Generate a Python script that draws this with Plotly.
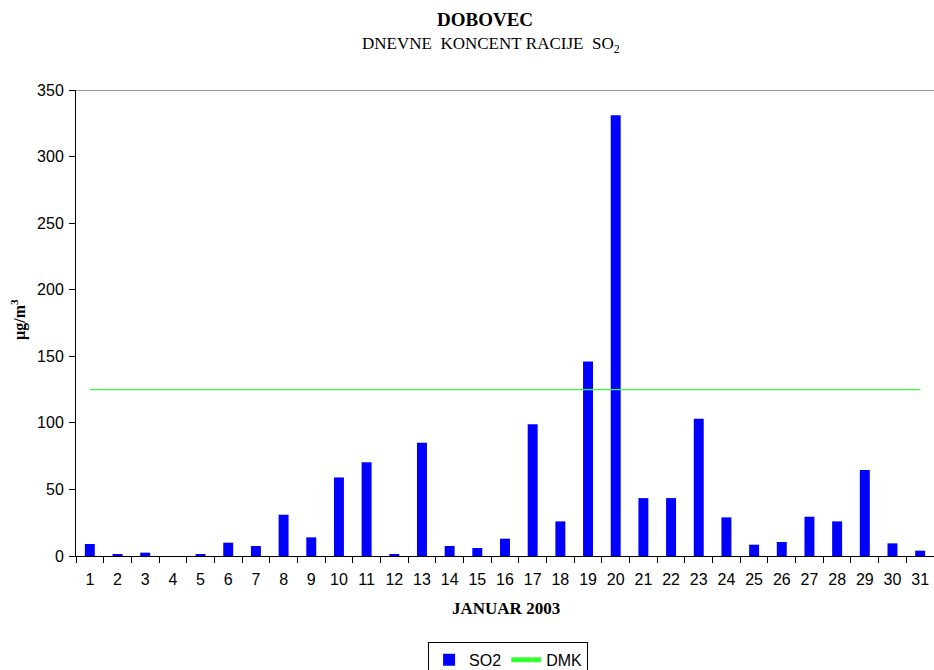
import plotly.graph_objects as go

days = [str(d) for d in range(1, 32)]
so2 = [9, 1, 2.5, 0, 1, 10, 7.5, 31, 14, 59, 70.5, 1, 85, 7.5, 6, 13, 99, 26, 146, 331,
       43.5, 43.5, 103, 29, 8.5, 10.5, 29.5, 26, 64.5, 9.5, 4]
dmk = [125] * 31
y_range = [0, 350]
y_ticks = [0, 50, 100, 150, 200, 250, 300, 350]

fig = go.Figure()
fig.add_trace(go.Bar(x=days, y=so2, name="SO2", marker=dict(color="#0000FF", line=dict(width=0))))
fig.add_trace(go.Scatter(x=days, y=dmk, name="DMK", mode="lines", line=dict(color="#33FF33", width=1.2)))

serif = "Liberation Serif, Times New Roman, serif"
sans = "Liberation Sans, Arial, sans-serif"
NB = "\u00a0"

fig.update_layout(
    width=934, height=670,
    margin=dict(l=76, r=0, t=90, b=114),
    paper_bgcolor="white", plot_bgcolor="white",
    bargap=0.64,
    showlegend=True,
    legend=dict(orientation="h", xref="container", yref="container",
                x=0.544, xanchor="center", y=0.042, yanchor="top",
                bordercolor="black", borderwidth=1, font=dict(family=sans, size=16, color="black"),
                tracegroupgap=0, itemsizing="constant"),
    xaxis=dict(type="category", showline=True, linecolor="black", linewidth=1,
               ticks="outside", tickson="boundaries", ticklen=6, tickcolor="black",
               ticklabelstandoff=9,
               tickfont=dict(family=sans, size=16, color="black"), showgrid=False, zeroline=False,
               automargin=False),
    yaxis=dict(range=y_range, tickvals=y_ticks, showline=True, linecolor="black", linewidth=1,
               ticks="outside", ticklen=6, tickcolor="black", showgrid=False, zeroline=False,
               ticklabelstandoff=2,
               tickfont=dict(family=sans, size=16, color="black"), automargin=False),
    shapes=[dict(type="line", xref="paper", yref="y", x0=0, x1=1, y0=350, y1=350,
                 line=dict(color="#999999", width=2))],
    annotations=[
        dict(text="<b>DOBOVEC</b>", xref="paper", yref="paper", x=0.477, y=1, yshift=71,
             showarrow=False, font=dict(family=serif, size=19, color="black"), xanchor="center", yanchor="middle"),
        dict(text="DNEVNE" + NB * 2 + "KONCENT" + NB + "RACIJE" + NB * 2 + "SO<sub>2</sub>",
             xref="paper", yref="paper", x=0.484, y=1, yshift=45,
             showarrow=False, font=dict(family=serif, size=17, color="black"), xanchor="center", yanchor="middle"),
        dict(text="<b>JANUAR 2003</b>", xref="paper", yref="paper", x=0.501, y=0, yshift=-52,
             showarrow=False, font=dict(family=serif, size=17, color="black"), xanchor="center", yanchor="middle"),
        dict(text="<b>µg/m<sup>3</sup></b>", xref="paper", yref="paper", x=0, xshift=-58, y=0.5, yshift=3,
             textangle=-90,
             showarrow=False, font=dict(family=serif, size=16, color="black"), xanchor="center", yanchor="middle"),
    ],
)

fig.write_html("out.html")
